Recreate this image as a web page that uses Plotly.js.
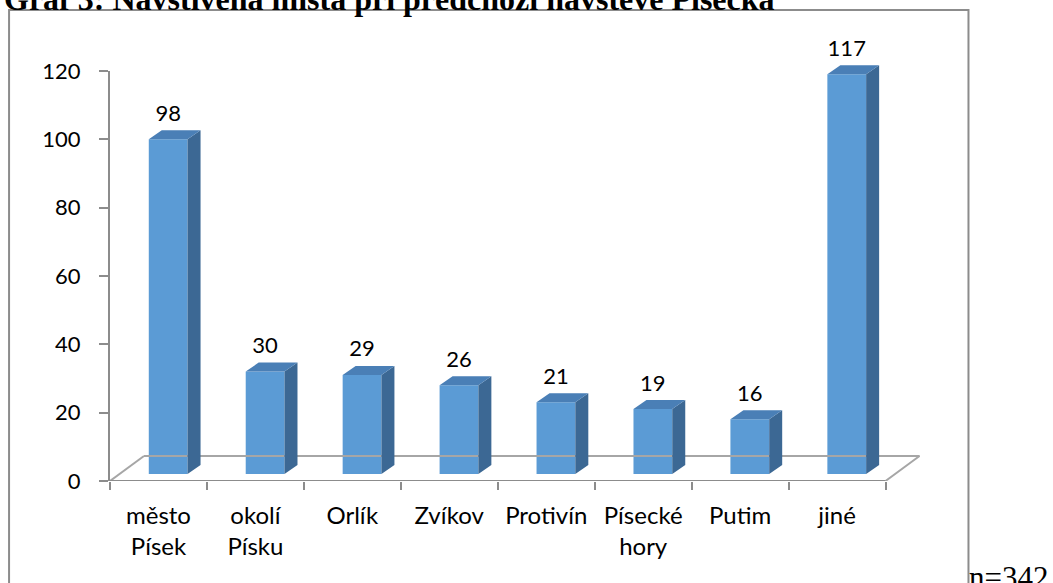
<!DOCTYPE html>
<html>
<head>
<meta charset="utf-8">
<script src="https://cdn.plot.ly/plotly-3.0.1.min.js"></script>
<style>html,body{margin:0;padding:0;background:#fff;}#chart{width:1053px;height:583px;}</style>
</head>
<body>
<div id="chart"></div>
<script>
// ---- data ----
const categories = ["město<br>Písek", "okolí<br>Písku", "Orlík", "Zvíkov", "Protivín", "Písecké<br>hory", "Putim", "jiné"];
const values = [98, 30, 29, 26, 21, 19, 16, 117];
const yTickVals = [0, 20, 40, 60, 80, 100, 120];
const titleText = "Graf 3: Navštívená místa při předchozí návštěvě Písecka";
const noteText = "n=342";

// ---- layout geometry ----
const W = 1053, H = 583;
const mL = 110, mT = 30, mB = 102;
const xSpan = 8.5;                 // x range [-0.5, 8.0]
const catPx = 97;
const plotW = xSpan * catPx;
const mR = W - mL - plotW;
const plotH = H - mT - mB;
const axisTopPx = 410;             // pixel height of 0..120
const pxPerUnit = axisTopPx / 120;
const y2Max = plotH / pxPerUnit;

// 3D look constants (in axis units)
const faceOff = -0.1, faceW = 0.40;
const depthX = 13 / catPx, depthY = 9 / pxPerUnit;
const baseU = 7 / pxPerUnit;
const floorDX = 34 / catPx, floorDY = 25 / pxPerUnit;
const labelGap = 13 / pxPerUnit;

const idx = values.map((v, i) => i);
const n = values.length;

// side and top faces
const sideX = [], sideY = [], topX = [], topY = [];
values.forEach((v, i) => {
  const xl = i + faceOff, xr = xl + faceW, yt = baseU + v;
  sideX.push(xr, xr + depthX, xr + depthX, xr, xr, null);
  sideY.push(baseU, baseU + depthY, yt + depthY, yt, baseU, null);
  topX.push(xl, xr, xr + depthX, xl + depthX, xl, null);
  topY.push(yt, yt, yt + depthY, yt + depthY, yt, null);
});

// invisible helper so the tick axes (x2, y) get drawn
const axisHelper = {
  type: 'scatter', mode: 'markers', xaxis: 'x2', yaxis: 'y',
  x: [0], y: [0], marker: {opacity: 0, size: 1}, hoverinfo: 'skip', showlegend: false
};
const floorTrace = {
  type: 'scatter', mode: 'lines', xaxis: 'x', yaxis: 'y2', hoverinfo: 'skip',
  x: [-0.5 + floorDX, n - 0.5 + floorDX, n - 0.5, null, -0.5, -0.5 + floorDX],
  y: [floorDY, floorDY, 0, null, 0, floorDY],
  line: {color: '#a6a6a6', width: 2}, showlegend: false
};
const frontEdge = {
  type: 'scatter', mode: 'lines', xaxis: 'x', yaxis: 'y2', hoverinfo: 'skip',
  x: [-0.5, n - 0.5], y: [0, 0],
  line: {color: '#8c8c8c', width: 2}, showlegend: false
};
const barTrace = {
  type: 'bar', x: idx, y: values, base: values.map(() => baseU),
  offset: faceOff, width: faceW, xaxis: 'x', yaxis: 'y2',
  marker: {color: '#5b9bd5', line: {width: 0}}, showlegend: false
};
const sideTrace = {
  type: 'scatter', mode: 'lines', fill: 'toself', x: sideX, y: sideY,
  xaxis: 'x', yaxis: 'y2', fillcolor: '#3c6894', line: {width: 0, color: '#3c6894'},
  hoverinfo: 'skip', showlegend: false
};
const topTrace = {
  type: 'scatter', mode: 'lines', fill: 'toself', x: topX, y: topY,
  xaxis: 'x', yaxis: 'y2', fillcolor: '#4a7fb6', line: {width: 0, color: '#4a7fb6'},
  hoverinfo: 'skip', showlegend: false, cliponaxis: false
};
const labelTrace = {
  type: 'scatter', mode: 'text', xaxis: 'x', yaxis: 'y2',
  x: idx.map(i => i + faceOff + faceW / 2), y: values.map(v => baseU + v + labelGap),
  text: values.map(String), textposition: 'top center', cliponaxis: false,
  textfont: {family: 'Lato, sans-serif', size: 22, color: '#000'},
  hoverinfo: 'skip', showlegend: false
};

const numFont = {family: 'Lato, sans-serif', size: 22, color: '#000'};
const catFont = {family: 'Lato, sans-serif', size: 24, color: '#000'};
const layout = {
  width: W, height: H,
  margin: {l: mL, r: mR, t: mT, b: mB, pad: 0},
  paper_bgcolor: '#fff', plot_bgcolor: 'rgba(0,0,0,0)',
  showlegend: false, font: numFont,
  xaxis: {
    range: [-0.5, 8.0], tickmode: 'array', tickvals: idx, ticktext: categories,
    showgrid: false, zeroline: false, showline: false, ticks: '',
    tickfont: catFont, ticklabelstandoff: 18, fixedrange: true
  },
  xaxis2: {
    overlaying: 'x', anchor: 'y', side: 'bottom', range: [-0.5, 8.0],
    tickmode: 'array', tickvals: idx.concat([n]).map(i => i - 0.5), showticklabels: false,
    ticks: 'outside', ticklen: 8, tickwidth: 2, tickcolor: '#8c8c8c',
    showgrid: false, zeroline: false, showline: false
  },
  yaxis: {
    domain: [0, axisTopPx / plotH], range: [0, 120], anchor: 'x',
    tickmode: 'array', tickvals: yTickVals, ticks: 'outside', ticklen: 9, tickwidth: 2,
    tickcolor: '#8c8c8c', showline: true, linecolor: '#8c8c8c', linewidth: 2,
    showgrid: false, zeroline: false, tickfont: numFont, ticklabelstandoff: 14
  },
  yaxis2: {
    domain: [0, 1], range: [0, y2Max], anchor: 'x',
    showticklabels: false, ticks: '', showgrid: false, zeroline: false, showline: false
  },
  shapes: [{
    type: 'rect', xref: 'paper', yref: 'paper', layer: 'below',
    x0: (9 - mL) / plotW, x1: (969 - mL) / plotW,
    y0: (H - mB - 600) / plotH, y1: (H - mB - 10) / plotH,
    line: {color: '#8c8c8c', width: 2}, fillcolor: 'rgba(0,0,0,0)'
  }],
  annotations: [{
    text: '<b>' + titleText + '</b>', showarrow: false,
    xref: 'paper', yref: 'paper', xanchor: 'left', yanchor: 'bottom',
    x: (2 - mL) / plotW, y: (H - mB - 19) / plotH,
    font: {family: '"Liberation Serif", "Times New Roman", serif', size: 32, color: '#000'}
  }, {
    text: noteText, showarrow: false,
    xref: 'paper', yref: 'paper', xanchor: 'left', yanchor: 'bottom',
    x: (968 - mL) / plotW, y: (H - mB - 597) / plotH,
    font: {family: '"Liberation Serif", "Times New Roman", serif', size: 31, color: '#000'}
  }]
};

Plotly.newPlot('chart', [axisHelper, floorTrace, frontEdge, barTrace, sideTrace, topTrace, labelTrace], layout,
  {staticPlot: true, displayModeBar: false});
</script>
</body>
</html>
